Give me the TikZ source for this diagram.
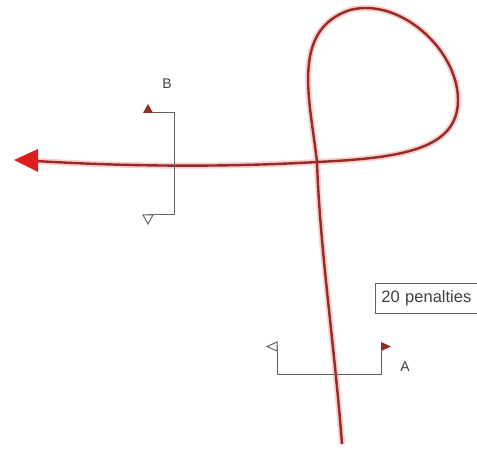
\documentclass[tikz,border=0pt]{standalone}
\usepackage{fontspec}
\setmainfont{Liberation Sans}
\usetikzlibrary{arrows.meta}
\definecolor{routered}{RGB}{150,42,42}
\definecolor{glowred}{RGB}{248,208,202}
\definecolor{tipred}{RGB}{222,28,28}
\definecolor{cutgray}{RGB}{100,100,100}

\begin{document}
\begin{tikzpicture}[x=1pt,y=-1pt]
        \tikzstyle{every node}=[font=\fontsize{14}{16}\selectfont, text=black!75]
        \tikzstyle{cutline}=[color=cutgray, line width=1pt]
        \clip (0,0) rectangle (477,473);
        \fill [white] (0,0) rectangle (477,473);

        % route: up from the bottom, round the loop, off to the left
        \coordinate (start) at (342,444);
        \coordinate (cross) at (317,162);
        \coordinate (looptop) at (350,10);
        \coordinate (loopright) at (458,100);
        \coordinate (tip) at (14,160);
        \draw [ color=glowred, line width=6pt ] (start) .. controls (334,340) and (320,250) .. (cross)
            .. controls (310,100) and (290,30) .. (looptop)
            .. controls (400,-3) and (458,50) .. (loopright)
            .. controls (458,150) and (400,158) .. (cross)
            .. controls (250,166) and (150,168) .. (36,161);
        \draw [ color=routered, line width=2.4pt ] (start) .. controls (334,340) and (320,250) .. (cross)
            .. controls (310,100) and (290,30) .. (looptop)
            .. controls (400,-3) and (458,50) .. (loopright)
            .. controls (458,150) and (400,158) .. (cross)
            .. controls (250,166) and (150,168) .. (36,161);
        \fill [ tipred ] (tip) -- (38,149) -- (38,172) -- cycle;

        % section B
        \coordinate (Btop) at (148,113);
        \coordinate (Bbot) at (148,215);
        \draw [cutline] (Btop) -- (174,113) -- (174,215) -- (Bbot);
        \fill [routered] (143,113) -- (153,113) -- (148,104) -- cycle;
        \draw [cutline, fill=white] (143,215) -- (153,215) -- (148,224) -- cycle;
            \node (lblB) at (167,84) {B};

        % section A
        \coordinate (Aleft) at (277,346);
        \coordinate (Aright) at (381,346);
        \draw [cutline] (Aleft) -- (277,374) -- (381,374) -- (Aright);
        \draw [cutline, fill=white] (277,342) -- (277,351) -- (267,346.5) -- cycle;
        \fill [routered] (381,342) -- (381,351) -- (391,346.5) -- cycle;
            \node (lblA) at (405,367) {A};

        % penalty note, runs off the right edge
        \node [draw=cutgray, line width=0.8pt, anchor=west, minimum height=30pt, inner xsep=6pt,
            text width=105pt, align=left, font=\fontsize{16.5}{18}\selectfont] (penalties) at (375,298) {20 penalties};
\end{tikzpicture}
\end{document}
